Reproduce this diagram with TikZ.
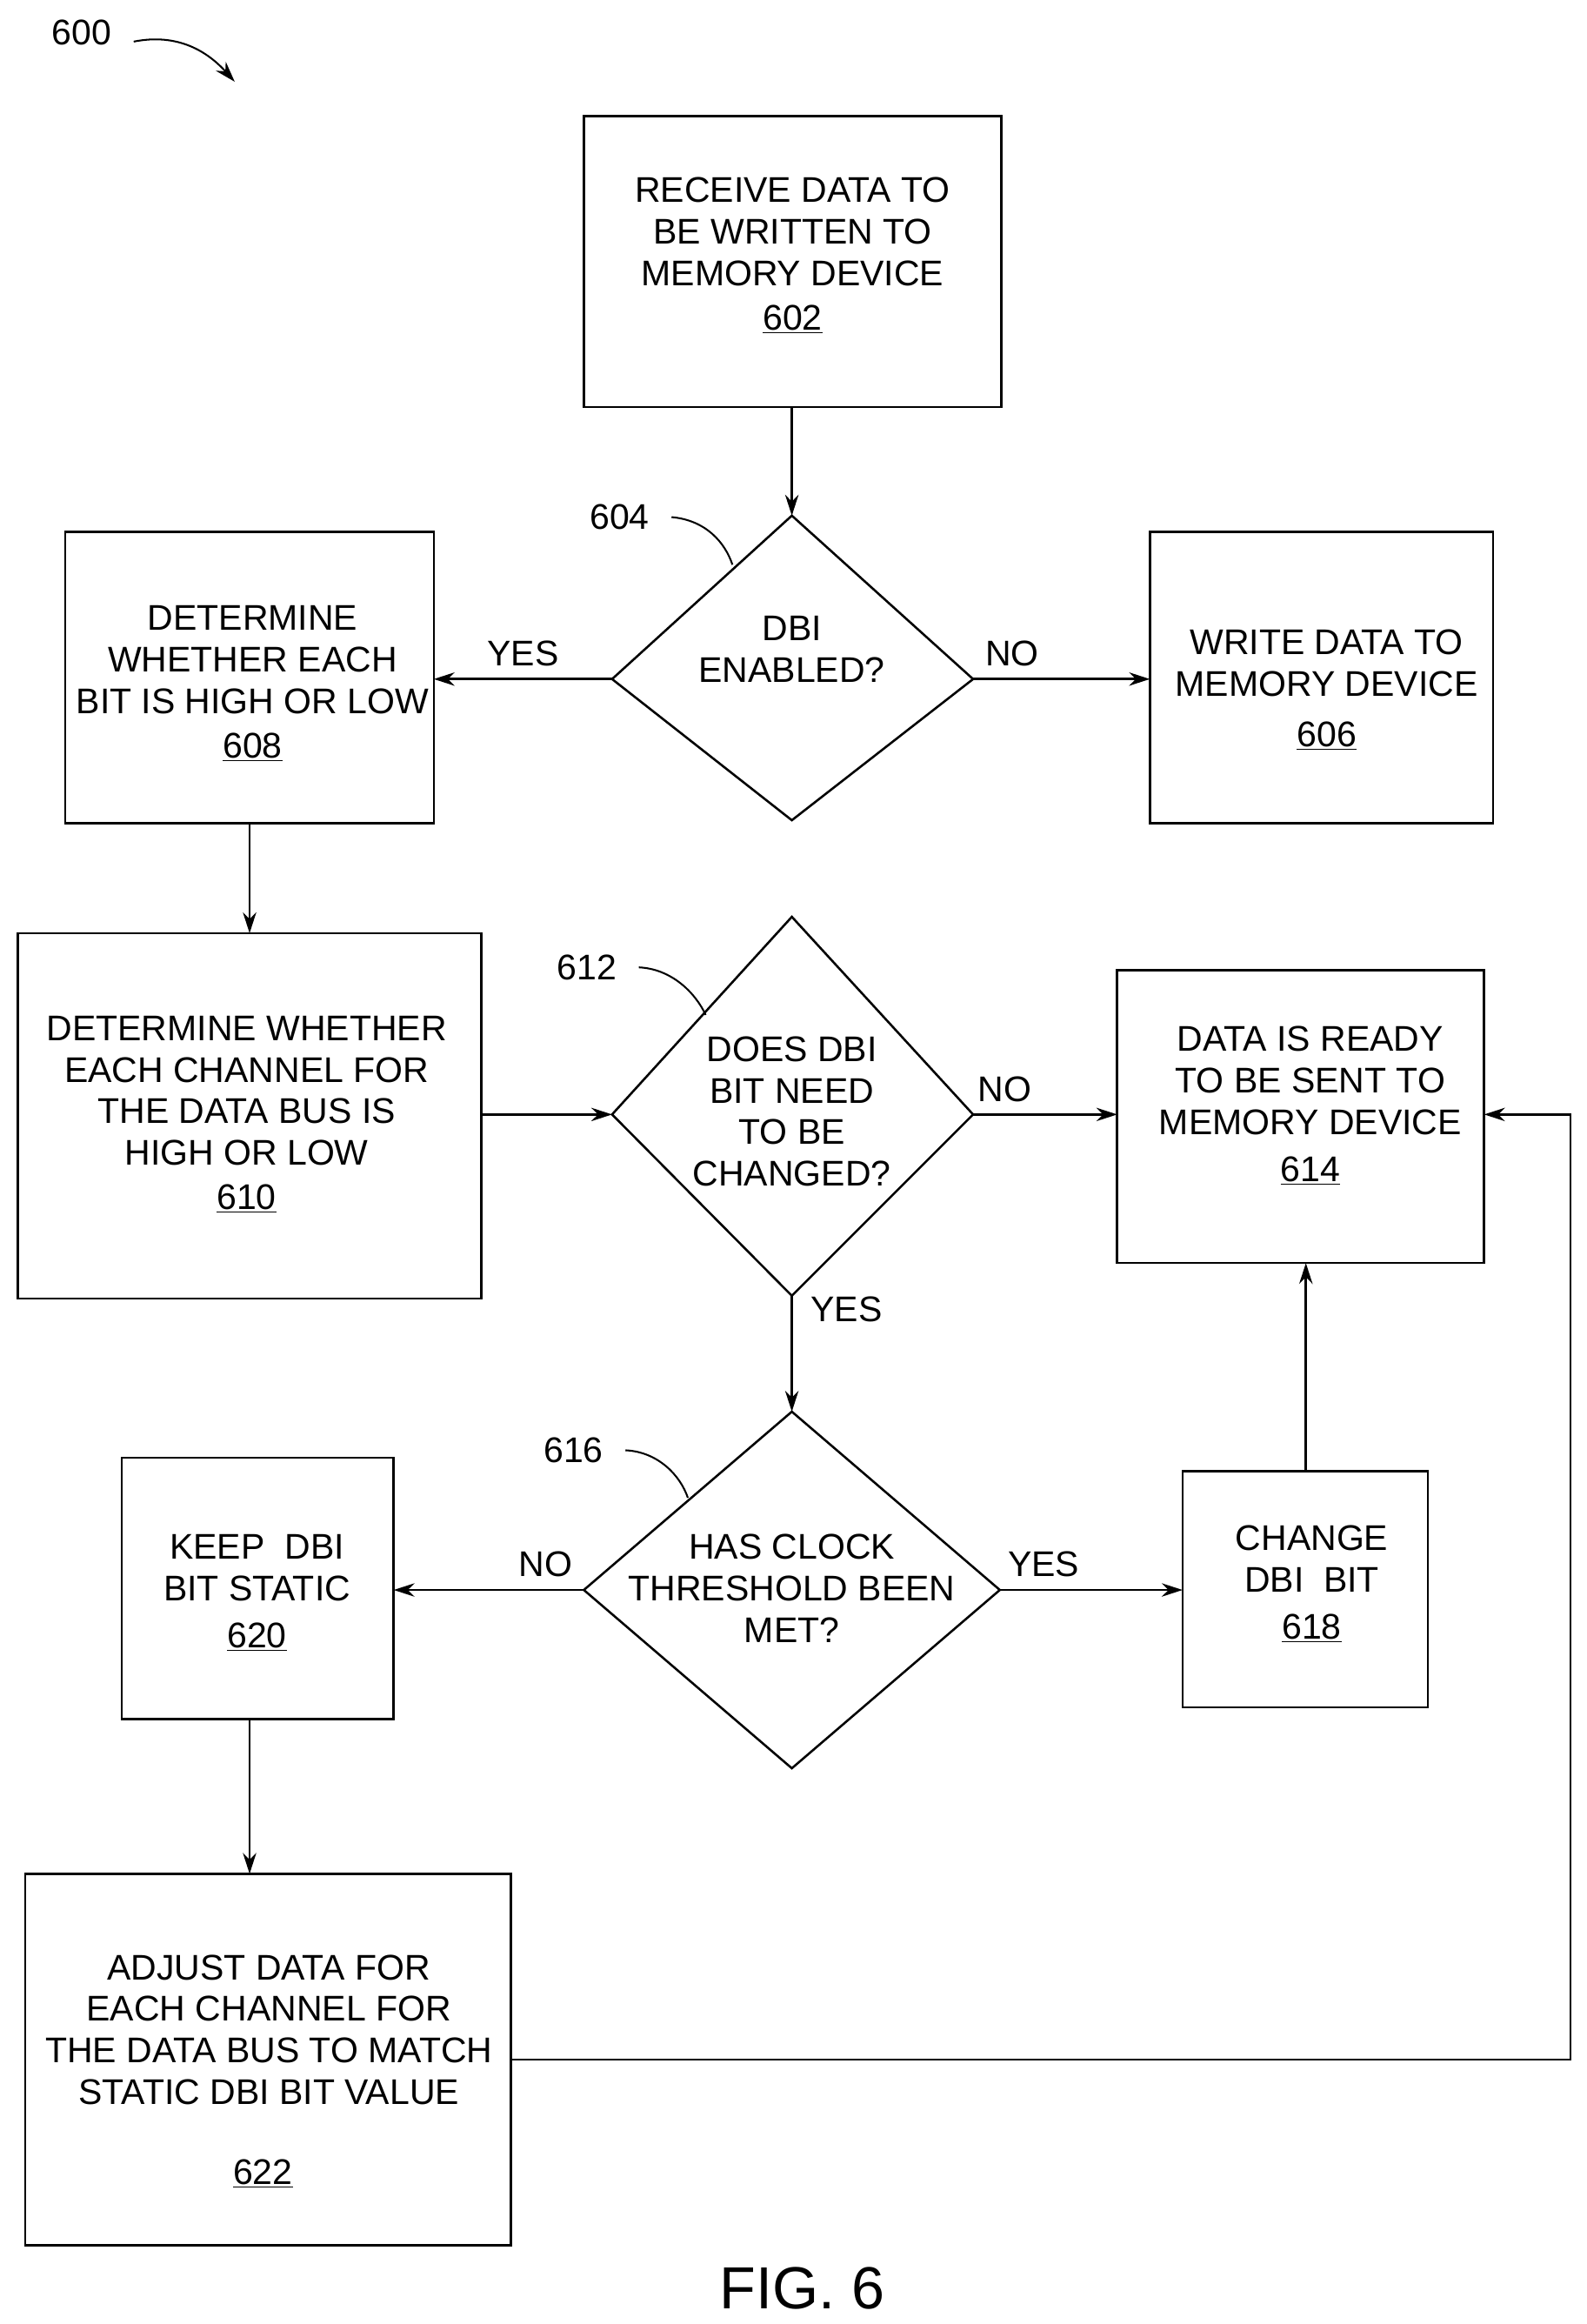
\documentclass[tikz,border=0pt]{standalone}
\usepackage{fontspec}
\setmainfont{Liberation Sans}
\usetikzlibrary{arrows.meta}
\begin{document}
\begin{tikzpicture}[x=1pt,y=-1pt,
  line width=1.5pt,
  every node/.style={font=\fontsize{24}{28}\selectfont, align=center, inner sep=0pt},
  box/.style={draw},
  arr/.style={-{Stealth[length=14pt,width=9pt]}},
  lbl/.style={font=\fontsize{24}{28}\selectfont}]
\useasboundingbox (0,0) rectangle (1068,1564);
% 600
\node[lbl] (l600) at (55,22) {600};
\coordinate (a600) at (158,55);
\draw[arr,line width=1.2pt] (90,28) .. controls (120,22) and (140,35) .. (a600);
% boxes
\draw[box] (393,78) rectangle (674,274);
\node (t602) at (533.5,172) {RECEIVE DATA TO\\BE WRITTEN TO\\MEMORY DEVICE\\[2pt]\underline{602}};
\coordinate (b602) at (533,274);
\coordinate (d604t) at (533,347);
\coordinate (d604l) at (412,457);
\coordinate (d604r) at (655,457);
\coordinate (d604b) at (533,552);
\draw (d604t) -- (d604r) -- (d604b) -- (d604l) -- cycle;
\node (t604) at (533,437) {DBI\\ENABLED?};
\node[lbl] (l604) at (417,348) {604};
\draw[line width=1.2pt] (452,348) .. controls (475,350) and (488,365) .. (493,380);
\draw[arr] (b602) -- (d604t);
\draw[box] (44,358) rectangle (292,554);
\node (t608) at (170,460) {DETERMINE\\WHETHER EACH\\BIT IS HIGH OR LOW\\[2pt]\underline{608}};
\draw[box] (774,358) rectangle (1005,554);
\node (t606) at (893,464) {WRITE DATA TO\\MEMORY DEVICE\\[6pt]\underline{606}};
\draw[arr] (d604l) -- (292,457) node[pos=0.5,above=8pt] (yes1) {YES};
\draw[arr] (d604r) -- (774,457) node[pos=0.22,above=8pt] (no1) {NO};
\draw[arr] (168,554) -- (168,628);
% 610
\draw[box] (12,628) rectangle (324,874);
\node (t610) at (166,750) {DETERMINE WHETHER\\EACH CHANNEL FOR\\THE DATA BUS IS\\HIGH OR LOW\\[2pt]\underline{610}};
\coordinate (d612t) at (533,617);
\coordinate (d612l) at (412,750);
\coordinate (d612r) at (655,750);
\coordinate (d612b) at (533,872);
\draw (d612t) -- (d612r) -- (d612b) -- (d612l) -- cycle;
\node (t612) at (533,748) {DOES DBI\\BIT NEED\\TO BE\\CHANGED?};
\node[lbl] (l612) at (395,651) {612};
\draw[line width=1.2pt] (430,651) .. controls (452,652) and (468,668) .. (475,683);
\draw[arr] (324,750) -- (d612l);
\draw[box] (752,653) rectangle (999,850);
\node (t614) at (882,744) {DATA IS READY\\TO BE SENT TO\\MEMORY DEVICE\\[4pt]\underline{614}};
\draw[arr] (d612r) -- (752,750) node[pos=0.22,above=8pt] (no2) {NO};
% 616
\coordinate (d616t) at (533,950);
\coordinate (d616l) at (393,1070);
\coordinate (d616r) at (673,1070);
\coordinate (d616b) at (533,1190);
\draw (d616t) -- (d616r) -- (d616b) -- (d616l) -- cycle;
\node (t616) at (533,1069) {HAS CLOCK\\THRESHOLD BEEN\\MET?};
\node[lbl] (l616) at (386,976) {616};
\draw[line width=1.2pt] (421,976) .. controls (443,977) and (458,993) .. (463,1008);
\draw[arr] (d612b) -- (d616t) node[pos=0.12,right=12pt] (yes2) {YES};
\draw[box] (82,981) rectangle (265,1157);
\node (t620) at (173,1072) {KEEP \ DBI\\BIT STATIC\\[4pt]\underline{620}};
\draw[box] (796,990) rectangle (961,1149);
\node (t618) at (883,1066) {CHANGE\\DBI \ BIT\\[4pt]\underline{618}};
\draw[arr] (d616l) -- (265,1070) node[pos=0.2,above=8pt] (no3) {NO};
\draw[arr] (d616r) -- (796,1070) node[pos=0.24,above=8pt] (yes3) {YES};
\draw[arr] (879,990) -- (879,850);
\draw[arr] (168,1157) -- (168,1261);
% 622
\draw[box] (17,1261) rectangle (344,1511);
\node (t622) at (181,1366) {ADJUST DATA FOR\\EACH CHANNEL FOR\\THE DATA BUS TO MATCH\\STATIC DBI BIT VALUE};
\node (n622) at (177,1463) {\underline{622}};
\draw[arr] (344,1386) -- (1057,1386) -- (1057,750) -- (999,750);
\node[font=\fontsize{40}{44}\selectfont] (fig) at (540,1540) {FIG. 6};
\end{tikzpicture}
\end{document}
